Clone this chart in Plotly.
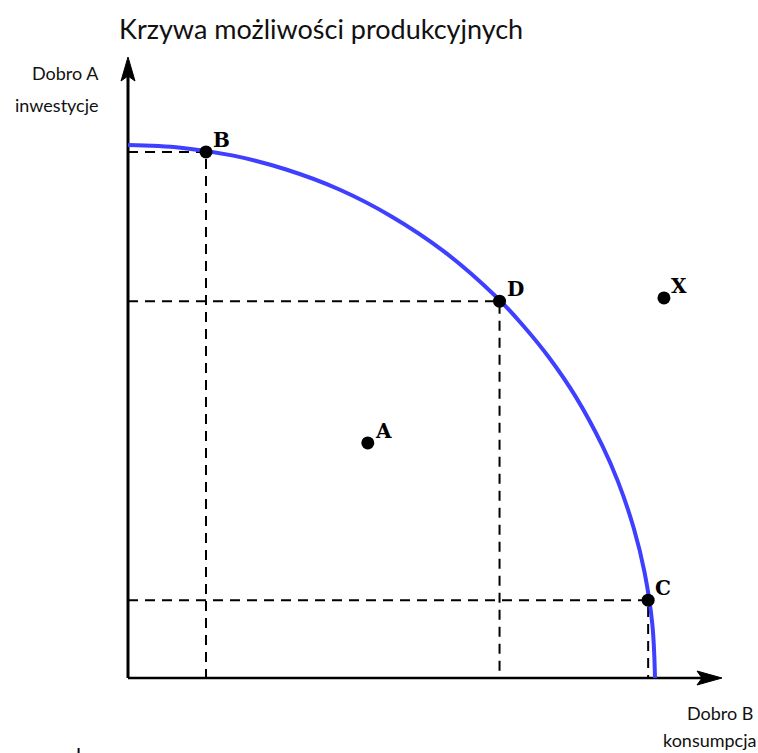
import plotly.graph_objects as go

# ---------------- data ----------------
# Production possibilities frontier (Dobro B on x, Dobro A on y)
curve_x = [0.0, 1.0, 2.0, 3.0, 4.0, 5.0, 6.0, 7.0, 7.5, 8.0, 8.5, 9.0, 9.3, 9.6, 9.8, 9.95, 10.0]
curve_y = [10.0, 9.95, 9.8, 9.54, 9.17, 8.66, 8.0, 7.14, 6.61, 6.0, 5.27, 4.36, 3.68, 2.8, 1.99, 1.0, 0.0]

point_names = ["B", "D", "C", "A", "X"]
point_x = [1.48, 7.05, 9.87, 4.55, 10.17]
point_y = [9.87, 7.07, 1.46, 4.41, 7.13]
guide_points = ["B", "D", "C"]  # points with dashed guide lines to the axes

title_text = "Krzywa możliwości produkcyjnych"
y_label = ["Dobro A", "inwestycje"]
x_label = ["Dobro B", "konsumpcja"]

# ---------------- geometry (pixel scale) ----------------
W, H = 758, 753
ORIGIN_PX = (128, 678)
SX, SY = 52.7, 53.3          # pixels per data unit
x_range = [-ORIGIN_PX[0] / SX, (W - ORIGIN_PX[0]) / SX]
y_range = [(ORIGIN_PX[1] - H) / SY, ORIGIN_PX[1] / SY]
Y_TOP = (ORIGIN_PX[1] - 57) / SY
X_END = (722 - ORIGIN_PX[0]) / SX

fig = go.Figure()

# dashed guide lines
for name in guide_points:
    i = point_names.index(name)
    px, py = point_x[i], point_y[i]
    fig.add_trace(go.Scatter(x=[0, px, px], y=[py, py, 0], mode="lines",
                             line=dict(color="black", width=2, dash="10px,7px"),
                             hoverinfo="skip", showlegend=False))

# axes lines
fig.add_trace(go.Scatter(x=[0, 0], y=[Y_TOP - 0.3, 0], mode="lines",
                         line=dict(color="black", width=3), hoverinfo="skip", showlegend=False))
fig.add_trace(go.Scatter(x=[0, X_END - 0.3], y=[0, 0], mode="lines",
                         line=dict(color="black", width=2.6), hoverinfo="skip", showlegend=False))

# frontier curve
fig.add_trace(go.Scatter(x=curve_x, y=curve_y, mode="lines", line_shape="spline",
                         line=dict(color="#3f3fff", width=4), hoverinfo="skip", showlegend=False))

# points
fig.add_trace(go.Scatter(x=point_x, y=point_y, mode="markers",
                         marker=dict(color="black", size=13), hoverinfo="skip", showlegend=False))

# arrowheads
hl_y, hw_x = 24 / SY, 7 / SX
notch_y = 5 / SY
fig.add_shape(type="path", xref="x", yref="y", fillcolor="black", line=dict(color="black", width=1),
              path=f"M 0 {Y_TOP} L {-hw_x} {Y_TOP - hl_y} L 0 {Y_TOP - hl_y + notch_y} L {hw_x} {Y_TOP - hl_y} Z")
hl_x, hw_y = 25 / SX, 7 / SY
notch_x = 5 / SX
fig.add_shape(type="path", xref="x", yref="y", fillcolor="black", line=dict(color="black", width=1),
              path=f"M {X_END} 0 L {X_END - hl_x} {hw_y} L {X_END - hl_x + notch_x} 0 L {X_END - hl_x} {-hw_y} Z")

# point labels
for n, x, y in zip(point_names, point_x, point_y):
    fig.add_annotation(x=x, y=y, text=f"<b>{n}</b>", showarrow=False, xanchor="left", yanchor="bottom",
                       xshift=5, yshift=-2,
                       font=dict(family="DejaVu Serif", size=20, color="black"))

# title and axis labels
fig.add_annotation(xref="paper", yref="paper", x=321 / W, y=1 - 29 / H, text=title_text, showarrow=False,
                   xanchor="center", yanchor="middle", font=dict(family="Lato", size=27, color="#111"))
fig.add_annotation(xref="paper", yref="paper", x=101 / W, y=1 - 73 / H, text=y_label[0], showarrow=False,
                   xanchor="right", yanchor="middle", font=dict(family="Lato", size=18, color="#111"))
fig.add_annotation(xref="paper", yref="paper", x=101 / W, y=1 - 105 / H, text=y_label[1], showarrow=False,
                   xanchor="right", yanchor="middle", font=dict(family="Lato", size=18, color="#111"))
fig.add_annotation(xref="paper", yref="paper", x=755 / W, y=1 - 713 / H, text=x_label[0], showarrow=False,
                   xanchor="right", yanchor="middle", font=dict(family="Lato", size=18, color="#111"))
fig.add_annotation(xref="paper", yref="paper", x=758 / W, y=1 - 740 / H, text=x_label[1], showarrow=False,
                   xanchor="right", yanchor="middle", font=dict(family="Lato", size=18, color="#111"))
# cut-off text fragment at the very bottom
fig.add_annotation(xref="paper", yref="paper", x=74 / W, y=1 - 740 / H, text="ke", showarrow=False,
                   xanchor="left", yanchor="top", font=dict(family="Lato", size=22, color="#111"))

fig.update_layout(width=W, height=H, margin=dict(l=0, r=0, t=0, b=0),
                  paper_bgcolor="white", plot_bgcolor="white",
                  xaxis=dict(range=x_range, visible=False, fixedrange=True),
                  yaxis=dict(range=y_range, visible=False, fixedrange=True))

fig.write_html("out.html", config={"displayModeBar": False},
               post_script="document.body.style.margin='0';document.body.style.overflow='hidden';")
